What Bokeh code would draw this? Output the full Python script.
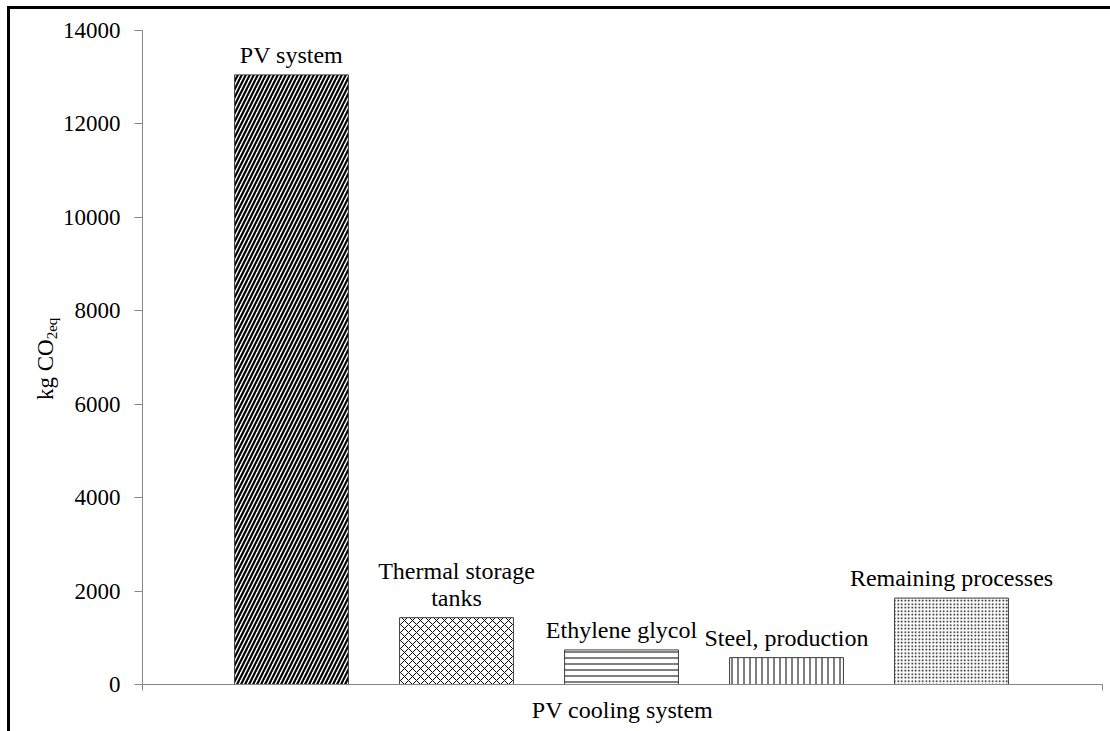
from bokeh.plotting import figure
from bokeh.layouts import row
from bokeh.models import ColumnDataSource, FixedTicker, LabelSet, Range1d, InlineStyleSheet, Div
from bokeh.core.properties import value
from bokeh.embed import file_html
from bokeh.resources import INLINE

# ---- data ----
categories = ["PV system", "Thermal storage\ntanks", "Ethylene glycol", "Steel, production", "Remaining processes"]
values = [13050, 1430, 740, 575, 1850]
positions = [1, 2, 3, 4, 5]
hatches = ["/", "x", "-", "|", "."]
hatch_scales = [8, 8, 6, 6, 3.5]
hatch_weights = [2.2, 1, 1, 1, 1]
y_ticks = [0, 2000, 4000, 6000, 8000, 10000, 12000, 14000]
x_title = "PV cooling system"
y_title_main = "kg CO"
y_title_sub = "2eq"

FONT = "Liberation Serif"
DIV_W = 56
LINE_H = 27

X0, X1 = 0.097, 5.915
p = figure(width=1110 - DIV_W, height=731, output_backend="svg", toolbar_location=None,
           x_range=Range1d(X0, X1), y_range=Range1d(0, 14000),
           min_border_left=142 - DIV_W, min_border_right=8, min_border_top=30, min_border_bottom=47)
p.border_fill_alpha = 0
p.outline_line_color = None
p.xgrid.visible = False
p.ygrid.visible = False

src = ColumnDataSource(dict(x=positions, top=values, hatch=hatches,
                            hs=hatch_scales, hw=hatch_weights))
p.vbar(x="x", top="top", bottom=0, width=0.69, source=src,
       fill_color="white", line_color="#3c3c3c", line_width=1,
       hatch_pattern="hatch", hatch_scale="hs", hatch_weight="hw", hatch_color="black")

# bar labels: each line drawn centred on its own
lx, ly, lt, lo = [], [], [], []
for xpos, val, cat in zip(positions, values, categories):
    lines = cat.split("\n")
    for j, line in enumerate(lines):
        lx.append(xpos)
        ly.append(val)
        lt.append(line)
        lo.append(7 + (len(lines) - 1 - j) * LINE_H)
lsrc = ColumnDataSource(dict(x=lx, y=ly, text=lt, off=lo))
labels = LabelSet(x="x", y="y", text="text", source=lsrc, y_offset="off",
                  text_align="center", text_baseline="bottom",
                  text_font=value(FONT), text_font_size=value("24px"), text_color="black")
p.add_layout(labels)

# y axis
ya = p.yaxis[0]
ya.ticker = FixedTicker(ticks=y_ticks)
ya.axis_line_color = "#868686"
ya.major_tick_line_color = "#868686"
ya.major_tick_out = 8
ya.major_tick_in = 0
ya.minor_tick_line_color = None
ya.major_label_standoff = 14
ya.major_label_text_font = FONT
ya.major_label_text_font_size = "23px"
ya.major_label_text_color = "black"

# x axis
xa = p.xaxis[0]
xa.ticker = FixedTicker(ticks=[X0, X1])
xa.major_label_overrides = {X0: "", X1: ""}
xa.axis_line_color = "#868686"
xa.major_tick_line_color = "#868686"
xa.major_tick_out = 6
xa.major_tick_in = 0
xa.minor_tick_line_color = None
xa.axis_label = x_title
xa.axis_label_standoff = 6
xa.axis_label_text_font = FONT
xa.axis_label_text_font_size = "24px"
xa.axis_label_text_font_style = "normal"
xa.axis_label_text_color = "black"

ylab = Div(
    width=DIV_W, height=731, margin=0,
    text=(
        '<div style="position:absolute; left:34px; top:400px; transform-origin:0 0; '
        'transform:rotate(-90deg); font-family:\'Liberation Serif\'; font-size:23px; '
        'line-height:1; white-space:nowrap; color:#000;">'
        f'{y_title_main}<sub style="font-size:15px; vertical-align:-4px;">{y_title_sub}</sub></div>'
    ),
    styles={"position": "relative", "overflow": "visible"},
)

layout = row(ylab, p, width=1110, height=731)
layout.stylesheets = [InlineStyleSheet(
    css=":host { box-shadow: inset 7px 6px 0 0 #fff, inset 10px 9px 0 0 #000; }")]

open("out.html", "w").write(file_html(layout, INLINE))
